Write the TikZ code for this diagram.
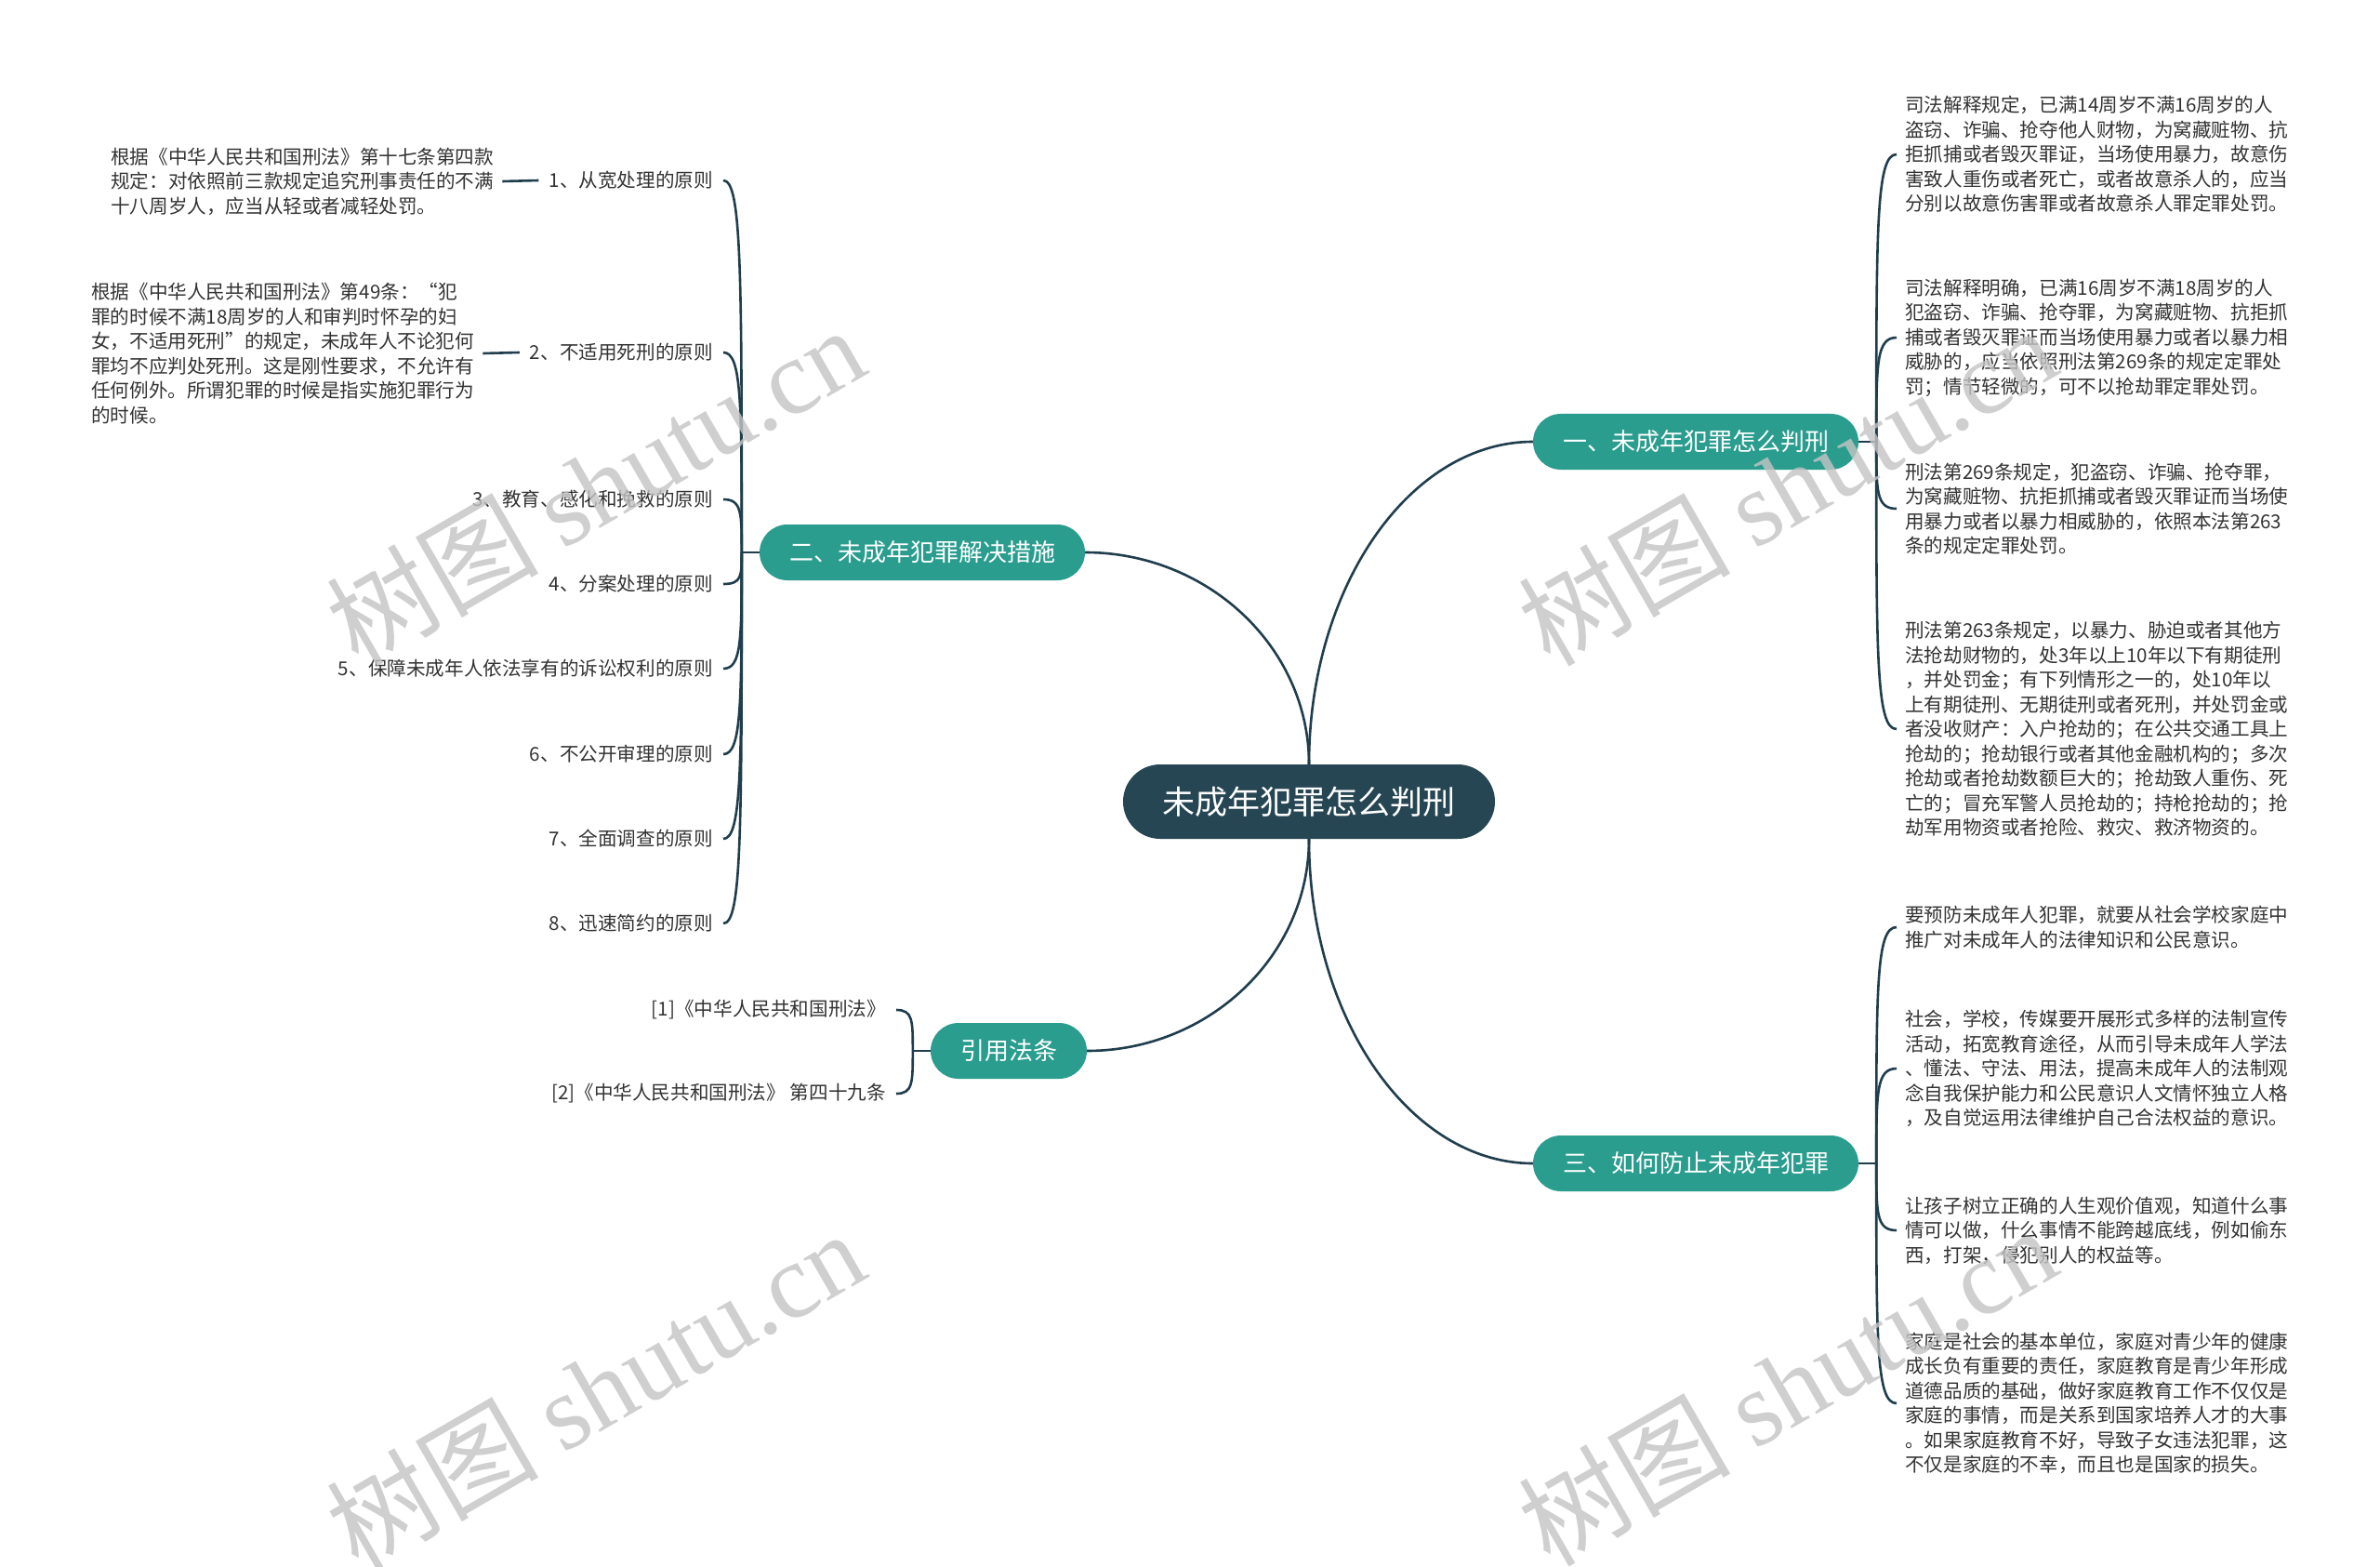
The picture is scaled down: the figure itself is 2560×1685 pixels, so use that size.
\documentclass[tikz,border=0pt]{standalone}
\usepackage{fontspec}
\setmainfont{Noto Sans CJK SC}
\newfontfamily\wmlatin{Liberation Serif}
\usetikzlibrary{calc}
\definecolor{rootc}{HTML}{264653}
\definecolor{branchc}{HTML}{2A9D8F}
\definecolor{linec}{HTML}{1F3D4C}
\definecolor{txtc}{HTML}{333333}
\definecolor{wmc}{HTML}{C4C4C4}
\begin{document}
\begin{tikzpicture}[x=1pt,y=-1pt,
  rootbox/.style={fill=rootc, text=white, rounded corners=40pt, minimum width=400pt, minimum height=80pt, inner sep=0pt, font=\fontsize{35}{40}\selectfont},
  branchbox/.style={fill=branchc, text=white, rounded corners=30pt, minimum height=60pt, inner xsep=32pt, inner ysep=0pt, font=\fontsize{26}{30}\selectfont},
  leaftext/.style={text=txtc, font=\fontsize{20.6}{26.5}\selectfont, align=left, inner ysep=0pt, inner xsep=9pt},
  itemtext/.style={text=txtc, font=\fontsize{20.6}{24}\selectfont, inner ysep=0pt, inner xsep=11pt},
  link/.style={draw=linec, line width=2.6pt},
  wm/.style={text=wmc, opacity=0.8, rotate=30, inner sep=0pt, font=\fontsize{114}{114}\selectfont}
]
\fill[white] (0,0) rectangle (2560,1685);
\useasboundingbox (0,0) rectangle (2560,1685);

% main nodes
\node[rootbox] (root) at (1408,862) {未成年犯罪怎么判刑};
\node[branchbox] (b1) at (1824,475) {一、未成年犯罪怎么判刑};
\node[branchbox] (b2) at (992,594) {二、未成年犯罪解决措施};
\node[branchbox] (b3) at (1824,1251) {三、如何防止未成年犯罪};
\node[branchbox] (b4) at (1085,1130) {引用法条};

% right leaves of b1
\node[leaftext, anchor=west] (r1) at (2040,166) {司法解释规定，已满14周岁不满16周岁的人\\盗窃、诈骗、抢夺他人财物，为窝藏赃物、抗\\拒抓捕或者毁灭罪证，当场使用暴力，故意伤\\害致人重伤或者死亡，或者故意杀人的，应当\\分别以故意伤害罪或者故意杀人罪定罪处罚。};
\node[leaftext, anchor=west] (r2) at (2040,363) {司法解释明确，已满16周岁不满18周岁的人\\犯盗窃、诈骗、抢夺罪，为窝藏赃物、抗拒抓\\捕或者毁灭罪证而当场使用暴力或者以暴力相\\威胁的，应当依照刑法第269条的规定定罪处\\罚；情节轻微的，可不以抢劫罪定罪处罚。};
\node[leaftext, anchor=west] (r3) at (2040,547) {刑法第269条规定，犯盗窃、诈骗、抢夺罪，\\为窝藏赃物、抗拒抓捕或者毁灭罪证而当场使\\用暴力或者以暴力相威胁的，依照本法第263\\条的规定定罪处罚。};
\node[leaftext, anchor=west] (r4) at (2040,784) {刑法第263条规定，以暴力、胁迫或者其他方\\法抢劫财物的，处3年以上10年以下有期徒刑\\，并处罚金；有下列情形之一的，处10年以\\上有期徒刑、无期徒刑或者死刑，并处罚金或\\者没收财产：入户抢劫的；在公共交通工具上\\抢劫的；抢劫银行或者其他金融机构的；多次\\抢劫或者抢劫数额巨大的；抢劫致人重伤、死\\亡的；冒充军警人员抢劫的；持枪抢劫的；抢\\劫军用物资或者抢险、救灾、救济物资的。};

% right leaves of b3
\node[leaftext, anchor=west] (r5) at (2040,997) {要预防未成年人犯罪，就要从社会学校家庭中\\推广对未成年人的法律知识和公民意识。};
\node[leaftext, anchor=west] (r6) at (2040,1149) {社会，学校，传媒要开展形式多样的法制宣传\\活动，拓宽教育途径，从而引导未成年人学法\\、懂法、守法、用法，提高未成年人的法制观\\念自我保护能力和公民意识人文情怀独立人格\\，及自觉运用法律维护自己合法权益的意识。};
\node[leaftext, anchor=west] (r7) at (2040,1323) {让孩子树立正确的人生观价值观，知道什么事\\情可以做，什么事情不能跨越底线，例如偷东\\西，打架，侵犯别人的权益等。};
\node[leaftext, anchor=west] (r8) at (2040,1509) {家庭是社会的基本单位，家庭对青少年的健康\\成长负有重要的责任，家庭教育是青少年形成\\道德品质的基础，做好家庭教育工作不仅仅是\\家庭的事情，而是关系到国家培养人才的大事\\。如果家庭教育不好，导致子女违法犯罪，这\\不仅是家庭的不幸，而且也是国家的损失。};

% left items of b2
\node[itemtext, anchor=east] (i1) at (778,194) {1、从宽处理的原则};
\node[itemtext, anchor=east] (i2) at (778,379) {2、不适用死刑的原则};
\node[itemtext, anchor=east] (i3) at (778,537) {3、教育、感化和挽救的原则};
\node[itemtext, anchor=east] (i4) at (778,628) {4、分案处理的原则};
\node[itemtext, anchor=east] (i5) at (778,719) {5、保障未成年人依法享有的诉讼权利的原则};
\node[itemtext, anchor=east] (i6) at (778,811) {6、不公开审理的原则};
\node[itemtext, anchor=east] (i7) at (778,902) {7、全面调查的原则};
\node[itemtext, anchor=east] (i8) at (778,993) {8、迅速简约的原则};

% third level on the left
\node[leaftext, anchor=west] (l1) at (110,195) {根据《中华人民共和国刑法》第十七条第四款\\规定：对依照前三款规定追究刑事责任的不满\\十八周岁人，应当从轻或者减轻处罚。};
\node[leaftext, anchor=west] (l2) at (89,380) {根据《中华人民共和国刑法》第49条：“犯\\罪的时候不满18周岁的人和审判时怀孕的妇\\女，不适用死刑”的规定，未成年人不论犯何\\罪均不应判处死刑。这是刚性要求，不允许有\\任何例外。所谓犯罪的时候是指实施犯罪行为\\的时候。};

% citations
\node[itemtext, anchor=east] (c1) at (964,1086) {[1]《中华人民共和国刑法》};
\node[itemtext, anchor=east] (c2) at (964,1176) {[2]《中华人民共和国刑法》 第四十九条};

% connectors from root
\draw[link] (root.north) .. controls ($(root.north)!0.55!(root.north |- b1.west)$) and ($(b1.west)!0.55!(root.north |- b1.west)$) .. (b1.west);
\draw[link] (root.north) .. controls ($(root.north)!0.55!(root.north |- b2.east)$) and ($(b2.east)!0.55!(root.north |- b2.east)$) .. (b2.east);
\draw[link] (root.south) .. controls ($(root.south)!0.55!(root.south |- b3.west)$) and ($(b3.west)!0.55!(root.south |- b3.west)$) .. (b3.west);
\draw[link] (root.south) .. controls ($(root.south)!0.55!(root.south |- b4.east)$) and ($(b4.east)!0.55!(root.south |- b4.east)$) .. (b4.east);

% b1 leaves
\draw[link] (b1.east) -- ++(19,0) coordinate (b1s);
\foreach \t in {r1,r2,r3,r4}{
  \draw[link] (b1s) .. controls ($(b1s)!0.75!(b1s |- \t.west)$) and (b1s |- \t.west) .. (\t.west);
}
% b3 leaves
\draw[link] (b3.east) -- ++(19,0) coordinate (b3s);
\foreach \t in {r5,r6,r7,r8}{
  \draw[link] (b3s) .. controls ($(b3s)!0.75!(b3s |- \t.west)$) and (b3s |- \t.west) .. (\t.west);
}
% b2 leaves
\draw[link] (b2.west) -- ++(-19,0) coordinate (b2s);
\foreach \t in {i1,i2,i3,i4,i5,i6,i7,i8}{
  \draw[link] (b2s) .. controls ($(b2s)!0.75!(b2s |- \t.east)$) and (b2s |- \t.east) .. (\t.east);
}
% b4 leaves
\draw[link] (b4.west) -- ++(-19,0) coordinate (b4s);
\foreach \t in {c1,c2}{
  \draw[link] (b4s) .. controls ($(b4s)!0.75!(b4s |- \t.east)$) and (b4s |- \t.east) .. (\t.east);
}
% third level
\draw[link] (l1.east) -- (i1.west);
\draw[link] (l2.east) -- (i2.west);

% watermarks
\node[wm] (wm1) at (640,522) {树图 {\wmlatin shutu.cn}};
\node[wm] (wm2) at (1922,522) {树图 {\wmlatin shutu.cn}};
\node[wm] (wm3) at (640,1494) {树图 {\wmlatin shutu.cn}};
\node[wm] (wm4) at (1922,1490) {树图 {\wmlatin shutu.cn}};
\end{tikzpicture}
\end{document}
